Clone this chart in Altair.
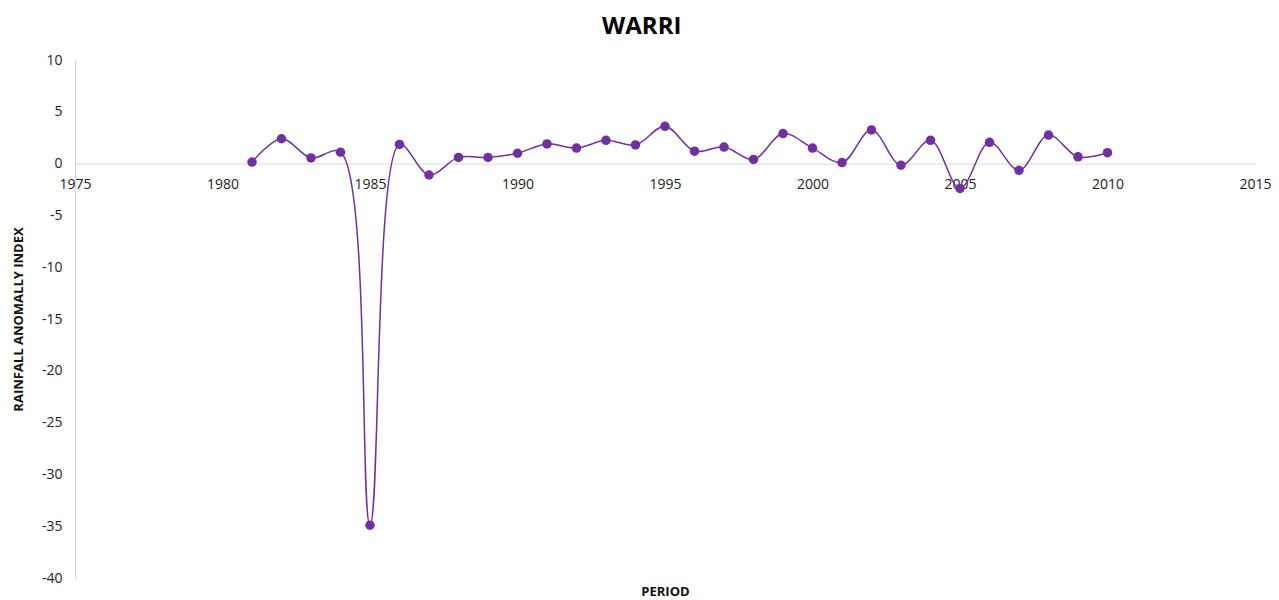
import altair as alt
import pandas as pd

years = list(range(1981, 2011))
rai = [0.15, 2.4, 0.55, 1.1, -34.9, 1.85, -1.1, 0.6, 0.6, 1.0,
       1.9, 1.5, 2.25, 1.8, 3.6, 1.2, 1.6, 0.4, 2.9, 1.5,
       0.1, 3.25, -0.16, 2.25, -2.4, 2.05, -0.65, 2.75, 0.65, 1.05]
x_ticks = [1975, 1980, 1985, 1990, 1995, 2000, 2005, 2010, 2015]
y_ticks = [10, 5, 0, -5, -10, -15, -20, -25, -30, -35, -40]

df = pd.DataFrame({"year": years, "rai": rai})

W, H = 1180, 518
TOP = 52
FONT = "Open Sans"
PURPLE = "#7030A0"
AXIS_Y = 0.2 * H  # pixel position of y=0 within plot

x_enc = alt.X("year:Q",
              scale=alt.Scale(domain=[1975, 2015], nice=False, zero=False),
              axis=alt.Axis(values=x_ticks, format="d", grid=False, ticks=False,
                            domainColor="#D9D9D9", domainWidth=1,
                            labelFont=FONT, labelFontSize=14, labelColor="#222",
                            labelPadding=14, labelFlush=False, offset=-(H - AXIS_Y),
                            title="PERIOD", titleFont=FONT, titleFontSize=13,
                            titleFontWeight="bold", titleColor="#111",
                            titleY=(595 - 8 - TOP) - AXIS_Y,
                            titleBaseline="alphabetic"))
y_enc = alt.Y("rai:Q",
              scale=alt.Scale(domain=[-40, 10], nice=False),
              axis=alt.Axis(values=y_ticks, grid=False, ticks=False,
                            domainColor="#C5D3E3", domainWidth=1,
                            labelExpr="toString(datum.value)",
                            labelFont=FONT, labelFontSize=14, labelColor="#222",
                            labelPadding=13,
                            title="RAINFALL ANOMALLY INDEX", titleFont=FONT,
                            titleFontSize=13, titleFontWeight="bold",
                            titleColor="#111", titlePadding=16))

line = alt.Chart(df).mark_line(interpolate="catmull-rom", color=PURPLE,
                               strokeWidth=1.5).encode(x=x_enc, y=y_enc)
pts = alt.Chart(df).mark_circle(color=PURPLE, size=90, opacity=1).encode(x=x_enc, y=y_enc)

chart = (line + pts).properties(
    width=W, height=H,
    title=alt.TitleParams("WARRI", font=FONT, fontSize=24, fontWeight="bold",
                          color="#000", anchor="middle", frame="bounds", offset=14),
    autosize=alt.AutoSizeParams(type="none"),
    padding={"left": 67, "top": TOP, "right": 16, "bottom": 20},
).configure_view(stroke=None)

chart.save("out.html", embed_options={"renderer": "svg", "actions": False})
